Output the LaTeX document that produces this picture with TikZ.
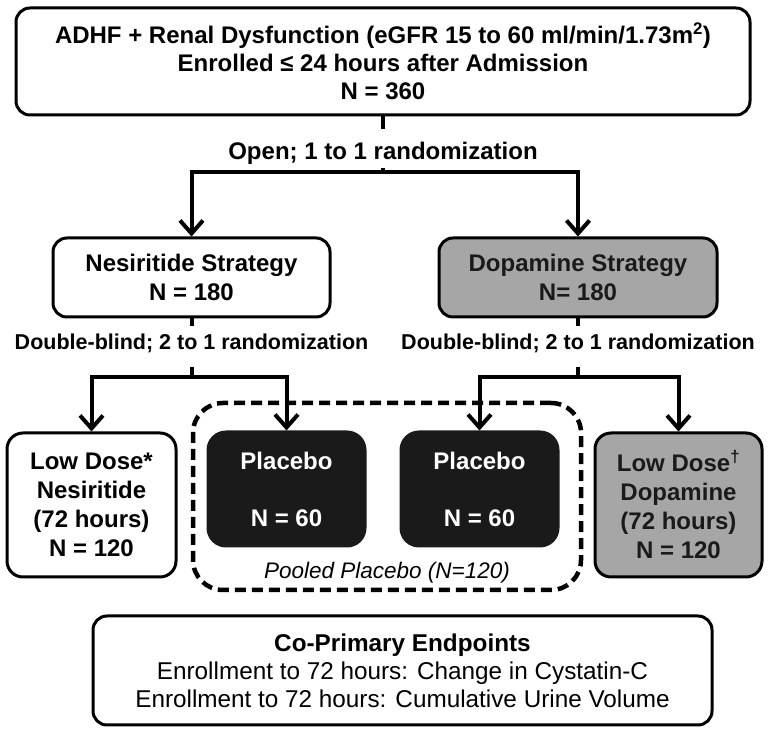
\documentclass[tikz,border=0pt]{standalone}
\usepackage{fontspec}
\setmainfont{Liberation Sans}
\usetikzlibrary{arrows.meta,positioning}
\definecolor{armgray}{HTML}{A6A6A6}
\definecolor{pbocol}{HTML}{1A1A1A}

\begin{document}
\begin{tikzpicture}[x=1pt, y=1pt,
  font=\bfseries\fontsize{24}{29}\selectfont,
  box/.style  = {draw, line width=3pt, rounded corners=14pt, align=center,
                 inner sep=0pt},
  wbox/.style = {box, fill=white},
  gbox/.style = {box, fill=armgray, text=pbocol},
  pbo/.style  = {box, draw=pbocol, fill=pbocol, text=white, rounded corners=18pt,
                 minimum width=157pt, minimum height=114pt},
  lbl/.style  = {inner xsep=2pt, inner ysep=0pt},
  line/.style = {line width=4pt},
  arr/.style  = {line, -{Straight Barb[length=13pt, width=23pt]}}]
\useasboundingbox (0,0) rectangle (772,736);

\node[wbox, minimum width=734pt, minimum height=107pt,
      font=\bfseries\fontsize{24}{28}\selectfont] (top) at (383,674.5)
  {ADHF + Renal Dysfunction (eGFR 15 to 60 ml/min/1.73m\textsuperscript{2})\\
   Enrolled ≤ 24 hours after Admission\\ N = 360};
\node[lbl, below=13pt of top, text height=30pt, text depth=8pt] (open)
  {Open; 1 to 1 randomization};

\node[wbox, minimum width=277pt, minimum height=79pt] (nes) at (191.5,458.5)
  {Nesiritide Strategy\\ N = 180};
\node[gbox, minimum width=278pt, minimum height=79pt] (dop) at (578,458.5)
  {Dopamine Strategy\\ N= 180};

\node[lbl, below=8pt of nes, font=\bfseries\fontsize{21.5}{25}\selectfont,
      text height=23pt, text depth=17pt] (dbn) {Double-blind; 2 to 1 randomization};
\node[lbl, below=8pt of dop, font=\bfseries\fontsize{21.5}{25}\selectfont,
      text height=23pt, text depth=17pt] (dbd) {Double-blind; 2 to 1 randomization};

% pooled placebo group
\node[draw, line width=4.5pt, dash pattern=on 11pt off 6pt, rounded corners=30pt,
      minimum width=388pt, minimum height=187pt] (pool) at (387,239.5) {};
\node[pbo] (pl1) at (286.5,247) {Placebo\\[28pt]N = 60};
\node[pbo] (pl2) at (479.5,247) {Placebo\\[28pt]N = 60};
\node[lbl, font=\mdseries\itshape\fontsize{22.5}{26}\selectfont] (pooled) at (387,163)
  {Pooled Placebo (N=120)};

\node[wbox, minimum width=169pt, minimum height=144pt, rounded corners=16pt]
  (lowN) at (91.5,231) {Low Dose*\\ Nesiritide\\ (72 hours)\\ N = 120};
\node[gbox, minimum width=167pt, minimum height=144pt, rounded corners=16pt]
  (lowD) at (678.5,231) {Low Dose\textsuperscript{†}\\ Dopamine\\ (72 hours)\\ N = 120};

\node[wbox, minimum width=619pt, minimum height=109pt,
      font=\mdseries\fontsize{24.3}{28}\selectfont] (endp) at (402.5,65.5)
  {\textbf{Co-Primary Endpoints}\\ Enrollment to 72 hours: Change in Cystatin-C\\
   Enrollment to 72 hours: Cumulative Urine Volume};

\draw[line] (top) -- (open);
\draw[arr] (open.south) -- ++(0,-4pt) -| (nes.north);
\draw[arr] (open.south) -- ++(0,-4pt) -| (dop.north);
\draw[line] (nes) -- (dbn);
\draw[line] (dop) -- (dbd);
\draw[arr] (dbn.south) -- ++(0,-10pt) -| (lowN.north);
\draw[arr] (dbn.south) -- ++(0,-10pt) -| (pl1.north);
\draw[arr] (dbd.south) -- ++(0,-10pt) -| (pl2.north);
\draw[arr] (dbd.south) -- ++(0,-10pt) -| (lowD.north);
\end{tikzpicture}
\end{document}
